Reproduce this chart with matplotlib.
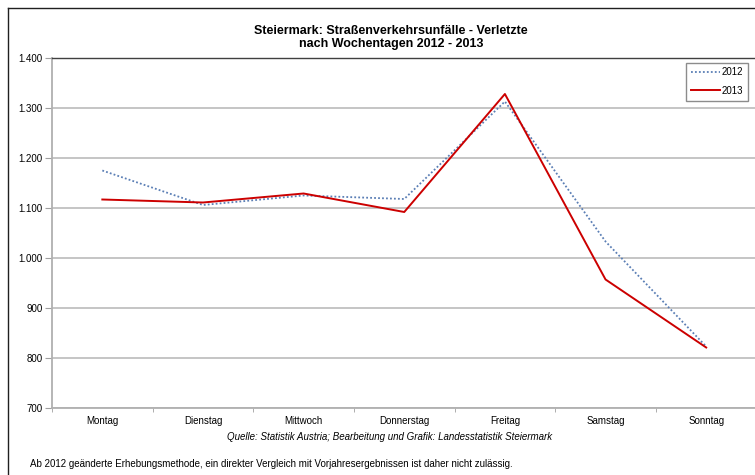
import numpy as np
import matplotlib
matplotlib.use('Agg')
import matplotlib.pyplot as plt
from matplotlib.lines import Line2D
from matplotlib.ticker import FuncFormatter, FixedLocator

plt.rcParams['font.family'] = ['Liberation Sans', 'DejaVu Sans']

days = ['Montag', 'Dienstag', 'Mittwoch', 'Donnerstag', 'Freitag', 'Samstag', 'Sonntag']
injured_2012 = [1175, 1106, 1125, 1118, 1313, 1033, 823]
injured_2013 = [1117, 1111, 1129, 1092, 1328, 957, 821]
y_ticks = [700, 800, 900, 1000, 1100, 1200, 1300, 1400]

fig = plt.figure(figsize=(7.55, 4.75), dpi=100)
ax = fig.add_axes([52/755, 1 - 408/475, 1 - 52/755 + 0.002, 350/475])

x = np.arange(len(days))
ax.plot(x, injured_2012, color='#5b7fb5', linestyle=(0, (1, 1.2)), linewidth=1.3, label='2012', zorder=3)
ax.plot(x, injured_2013, color='#cc0000', linewidth=1.4, label='2013', zorder=4)

ax.set_xlim(-0.5, len(days) - 0.5)
ax.set_ylim(700, 1400)
ax.set_yticks(y_ticks)
ax.yaxis.set_major_formatter(FuncFormatter(lambda v, p: f'{int(v):,}'.replace(',', '.')))
ax.set_xticks(x)
ax.set_xticklabels(days)
ax.xaxis.set_minor_locator(FixedLocator(np.arange(-0.5, len(days), 1)))
ax.tick_params(axis='x', which='major', length=0, labelsize=7, pad=6)
ax.tick_params(axis='x', which='minor', length=3, color='#a0a0a0', direction='out')
ax.tick_params(axis='y', length=5, color='#a0a0a0', labelsize=7, pad=2)

ax.grid(axis='y', color='#c0c0c0', linewidth=1.3)
ax.spines['right'].set_visible(False)
ax.spines['top'].set_color('#404040')
ax.spines['top'].set_linewidth(1.0)
ax.spines['left'].set_color('#b0b0b0')
ax.spines['left'].set_linewidth(1.3)
ax.spines['bottom'].set_color('#b0b0b0')
ax.spines['bottom'].set_linewidth(1.3)

leg = ax.legend(loc='upper right', bbox_to_anchor=(0.988, 0.987), fontsize=7, frameon=True,
                fancybox=False, edgecolor='#707070', handlelength=3.0, handletextpad=0.15,
                borderpad=0.5, labelspacing=0.85, borderaxespad=0)
leg.get_frame().set_linewidth(1.0)

fig.text(391/755, 1 - 37.5/475, 'Steiermark: Straßenverkehrsunfälle - Verletzte\nnach Wochentagen 2012 - 2013',
         ha='center', va='center', fontsize=9, fontweight='bold', linespacing=1.2)
fig.text(390/755, 1 - 437/475, 'Quelle: Statistik Austria; Bearbeitung und Grafik: Landesstatistik Steiermark',
         ha='center', va='center', fontsize=7, style='italic')
fig.text(30/755, 1 - 464/475, 'Ab 2012 geänderte Erhebungsmethode, ein direkter Vergleich mit Vorjahresergebnissen ist daher nicht zulässig.',
         ha='left', va='center', fontsize=7)

# outer chart border (left and top visible)
fig.add_artist(Line2D([8/755, 8/755], [0, 1 - 8/475], color='#202020', linewidth=1.0))
fig.add_artist(Line2D([8/755, 1], [1 - 8/475, 1 - 8/475], color='#202020', linewidth=1.0))

fig.savefig('out.png', dpi=100)
